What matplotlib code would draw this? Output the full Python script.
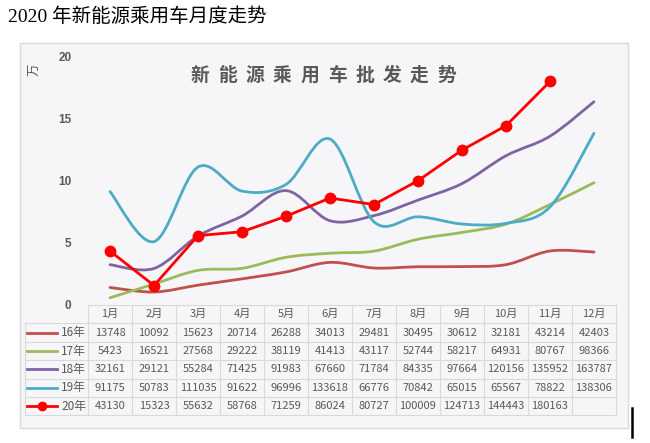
"""Monthly NEV passenger car wholesale chart with an Excel-style data table."""

import matplotlib
matplotlib.use("Agg")
import matplotlib.pyplot as plt
from matplotlib.path import Path
from matplotlib.patches import PathPatch, Rectangle
from matplotlib.lines import Line2D

# Monthly wholesale volumes (units)
MONTHS = ["1月", "2月", "3月", "4月", "5月", "6月", "7月", "8月", "9月", "10月", "11月", "12月"]
SERIES_NAMES = ["16年", "17年", "18年", "19年", "20年"]
Y16 = [13748, 10092, 15623, 20714, 26288, 34013, 29481, 30495, 30612, 32181, 43214, 42403]
Y17 = [5423, 16521, 27568, 29222, 38119, 41413, 43117, 52744, 58217, 64931, 80767, 98366]
Y18 = [32161, 29121, 55284, 71425, 91983, 67660, 71784, 84335, 97664, 120156, 135952, 163787]
Y19 = [91175, 50783, 111035, 91622, 96996, 133618, 66776, 70842, 65015, 65567, 78822, 138306]
Y20 = [43130, 15323, 55632, 58768, 71259, 86024, 80727, 100009, 124713, 144443, 180163]
Y_TICKS = [0, 5, 10, 15, 20]

COLORS = ["#c0504d", "#9bbb59", "#8064a2", "#4bacc6", "#ff0000"]
TEXT_GRAY = "#595959"
GRID_GRAY = "#d9d9d9"
CJK = ["Noto Sans CJK SC", "DejaVu Sans"]

W, H = 650, 443


def fx(px):
    return px / W


def fy(py):
    return 1 - py / H


def smooth_path(xs, ys):
    """Excel-like smoothed line: cubic Bezier through every data point."""
    pts = list(zip(xs, ys))
    verts = [pts[0]]
    codes = [Path.MOVETO]
    n = len(pts)
    for i in range(n - 1):
        p0 = pts[i - 1] if i > 0 else pts[i]
        p1 = pts[i]
        p2 = pts[i + 1]
        p3 = pts[i + 2] if i + 2 < n else pts[i + 1]
        c1 = (p1[0] + (p2[0] - p0[0]) / 6, p1[1] + (p2[1] - p0[1]) / 6)
        c2 = (p2[0] - (p3[0] - p1[0]) / 6, p2[1] - (p3[1] - p1[1]) / 6)
        verts += [c1, c2, p2]
        codes += [Path.CURVE4] * 3
    return Path(verts, codes)


fig = plt.figure(figsize=(W / 100, H / 100), dpi=100)
fig.patch.set_facecolor("white")

# Background layer in pixel coordinates (chart box, titles, table)
bg = fig.add_axes([0, 0, 1, 1], zorder=0)
bg.set_xlim(0, W)
bg.set_ylim(H, 0)
bg.axis("off")
bg.add_patch(Rectangle((20, 43), 608, 385, facecolor="#f6f6f8", edgecolor=GRID_GRAY, linewidth=1))

bg.text(8, 17, "2020 年新能源乘用车月度走势", fontsize=14, color="black",
        family=["Liberation Serif", "Noto Sans CJK SC"], va="center", ha="left")

inner_title = "新能源乘用车批发走势"
for i, ch in enumerate(inner_title):
    bg.text(200 + 27.4 * i, 75, ch, fontsize=13.5, fontweight="bold", color=TEXT_GRAY,
            family=CJK, ha="center", va="center")

bg.text(35, 70, "万", rotation=90, fontsize=9, color=TEXT_GRAY, family=CJK,
        ha="center", va="center")

# Main plot
x0, x1 = 88, 616
y_zero, y_top = 304.5, 304.5 - 20 * 12.38
ax = fig.add_axes([fx(x0), fy(y_zero), fx(x1) - fx(x0), (y_zero - y_top) / H], zorder=1)
ax.set_facecolor("none")
ax.set_xlim(0.5, 12.5)
ax.set_ylim(0, 20)
for s in ax.spines.values():
    s.set_visible(False)
ax.set_xticks([])
ax.set_yticks(Y_TICKS)
ax.set_yticklabels([str(t) for t in Y_TICKS], fontsize=8.5, fontweight="bold",
                   color=TEXT_GRAY, family="Liberation Sans")
ax.tick_params(axis="y", length=0, pad=12)

x_all = list(range(1, 13))
for values, color in zip([Y16, Y17, Y18, Y19], COLORS[:4]):
    path = smooth_path(x_all, [v / 10000 for v in values])
    ax.add_patch(PathPatch(path, facecolor="none", edgecolor=color, linewidth=2,
                           capstyle="round", joinstyle="round"))

ax.plot(x_all[:len(Y20)], [v / 10000 for v in Y20], color=COLORS[4], linewidth=2,
        marker="o", markersize=7.5, zorder=5)

# Data table below the axis
col_w = (x1 - x0) / 12
top = 305
row_h = 18.4
rows = [Y16, Y17, Y18, Y19, Y20]
bottom = top + row_h * (len(rows) + 1)
left = 25

bg.plot([x0, x1], [top, top], color=GRID_GRAY, lw=0.8)
for r in range(1, len(rows) + 2):
    yy = top + row_h * r
    bg.plot([left, x1], [yy, yy], color=GRID_GRAY, lw=0.8)
for c in range(13):
    xx = x0 + col_w * c
    bg.plot([xx, xx], [top, bottom], color=GRID_GRAY, lw=0.8)
bg.plot([left, left], [top + row_h, bottom], color=GRID_GRAY, lw=0.8)

for c, m in enumerate(MONTHS):
    bg.text(x0 + col_w * (c + 0.5), top + row_h / 2, m, fontsize=8, color=TEXT_GRAY,
            family=CJK, ha="center", va="center")

for r, (name, values, color) in enumerate(zip(SERIES_NAMES, rows, COLORS)):
    yc = top + row_h * (r + 1.5)
    key = Line2D([27, 57], [yc, yc], color=color, linewidth=2)
    bg.add_line(key)
    if r == len(rows) - 1:
        bg.plot([42], [yc], marker="o", color=color, markersize=6)
    bg.text(86, yc, name, fontsize=8.5, color=TEXT_GRAY, family=CJK, ha="right", va="center")
    for c, v in enumerate(values):
        bg.text(x0 + col_w * (c + 0.5), yc, str(v), fontsize=8, color=TEXT_GRAY,
                family=CJK, ha="center", va="center")

# stray cursor mark at the lower right of the screenshot
bg.plot([632, 632], [408, 437], color="black", lw=1.8)

fig.savefig("out.png", dpi=100, facecolor=fig.get_facecolor())
